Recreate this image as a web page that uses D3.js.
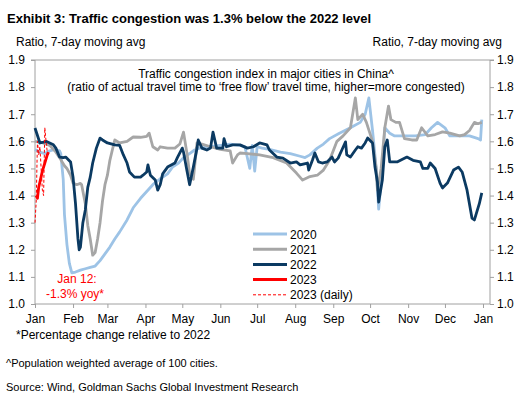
<!DOCTYPE html>
<html>
<head>
<meta charset="utf-8">
<script src="https://cdn.jsdelivr.net/npm/d3@7"></script>
<style>
  body { margin: 0; background: #fff; }
  text { font-family: "Liberation Sans", Arial, sans-serif; fill: #000; }
</style>
</head>
<body>
<div id="chart"></div>
<script>
// month tick labels, placed at day-of-year of each month start
const months = ["Jan", "Feb", "Mar", "Apr", "May", "Jun", "Jul", "Aug", "Sep", "Oct", "Nov", "Dec", "Jan"];
const monthDays = [0, 31, 59, 90, 120, 151, 181, 212, 243, 273, 304, 334, 365];
const yTicks = [1.0, 1.1, 1.2, 1.3, 1.4, 1.5, 1.6, 1.7, 1.8, 1.9];

// 2020 (day of year, ratio)
const days2020 = [0, 4, 8, 12, 16, 20, 21, 23, 24, 26, 28, 30, 33, 37, 41, 45, 49, 53, 57, 61, 65, 69, 75, 80, 86, 91, 96, 102, 108, 112, 117, 121, 126, 130, 134, 143, 151, 159, 167, 171, 175, 177, 179, 181, 185, 191, 200, 208, 216, 220, 224, 230, 235, 240, 248, 257, 265, 269, 272, 275, 278, 280, 283, 285, 289, 293, 301, 310, 318, 323, 328, 334, 338, 346, 354, 361, 363, 364];
const values2020 = [1.57, 1.56, 1.555, 1.565, 1.57, 1.565, 1.555, 1.46, 1.33, 1.22, 1.15, 1.115, 1.118, 1.125, 1.13, 1.135, 1.14, 1.16, 1.185, 1.21, 1.24, 1.266, 1.31, 1.355, 1.39, 1.415, 1.44, 1.462, 1.48, 1.505, 1.52, 1.54, 1.555, 1.568, 1.575, 1.58, 1.585, 1.59, 1.585, 1.58, 1.50, 1.585, 1.49, 1.58, 1.575, 1.57, 1.56, 1.555, 1.545, 1.54, 1.55, 1.575, 1.59, 1.61, 1.63, 1.65, 1.67, 1.70, 1.76, 1.64, 1.50, 1.35, 1.50, 1.65, 1.63, 1.62, 1.62, 1.62, 1.625, 1.65, 1.67, 1.65, 1.62, 1.62, 1.62, 1.61, 1.605, 1.68];

// 2021
const days2021 = [0, 6, 12, 17, 20, 24, 26, 29, 31, 34, 37, 38, 41, 43, 45, 47, 49, 51, 53, 55, 57, 59, 61, 63, 65, 69, 75, 80, 86, 91, 93, 96, 100, 102, 108, 114, 118, 121, 124, 126, 129, 132, 136, 143, 151, 159, 161, 165, 167, 173, 183, 194, 205, 213, 218, 224, 230, 235, 240, 246, 251, 257, 261, 263, 267, 270, 275, 278, 279, 282, 285, 288, 290, 294, 297, 301, 307, 311, 315, 320, 326, 332, 338, 346, 350, 354, 358, 361, 364];
const values2021 = [1.60, 1.595, 1.585, 1.56, 1.54, 1.51, 1.50, 1.475, 1.446, 1.44, 1.445, 1.44, 1.37, 1.29, 1.24, 1.18, 1.19, 1.24, 1.30, 1.38, 1.44, 1.475, 1.53, 1.568, 1.605, 1.594, 1.60, 1.616, 1.615, 1.618, 1.63, 1.58, 1.568, 1.58, 1.575, 1.575, 1.59, 1.634, 1.55, 1.48, 1.46, 1.594, 1.59, 1.58, 1.57, 1.565, 1.52, 1.55, 1.557, 1.555, 1.55, 1.54, 1.52, 1.483, 1.457, 1.47, 1.475, 1.494, 1.53, 1.60, 1.62, 1.65, 1.76, 1.68, 1.70, 1.67, 1.60, 1.50, 1.42, 1.50, 1.65, 1.73, 1.68, 1.67, 1.67, 1.61, 1.605, 1.605, 1.65, 1.62, 1.625, 1.635, 1.63, 1.62, 1.625, 1.64, 1.67, 1.665, 1.67];

// 2022
const days2022 = [0, 4, 7, 9, 12, 15, 17, 20, 23, 25, 29, 31, 33, 35, 36, 37, 39, 41, 43, 45, 47, 50, 53, 55, 59, 65, 69, 72, 75, 77, 81, 86, 88, 91, 92, 94, 98, 100, 102, 104, 108, 114, 116, 120, 121, 124, 126, 129, 132, 133, 136, 140, 143, 145, 148, 153, 154, 156, 161, 167, 173, 178, 183, 189, 191, 197, 202, 208, 213, 216, 222, 223, 226, 228, 231, 234, 238, 242, 244, 247, 250, 253, 254, 257, 261, 263, 266, 269, 271, 275, 277, 279, 280, 283, 285, 287, 289, 295, 303, 308, 314, 316, 320, 322, 326, 330, 332, 336, 341, 345, 348, 352, 356, 358, 362, 364];
const values2022 = [1.649, 1.594, 1.597, 1.60, 1.594, 1.587, 1.575, 1.542, 1.54, 1.542, 1.524, 1.468, 1.37, 1.24, 1.20, 1.21, 1.30, 1.347, 1.43, 1.468, 1.52, 1.575, 1.612, 1.605, 1.594, 1.587, 1.585, 1.55, 1.52, 1.487, 1.468, 1.468, 1.475, 1.487, 1.513, 1.475, 1.457, 1.42, 1.44, 1.48, 1.505, 1.52, 1.54, 1.575, 1.56, 1.487, 1.44, 1.505, 1.575, 1.605, 1.575, 1.568, 1.575, 1.634, 1.575, 1.575, 1.61, 1.58, 1.587, 1.587, 1.575, 1.58, 1.594, 1.587, 1.568, 1.542, 1.538, 1.52, 1.524, 1.513, 1.52, 1.494, 1.53, 1.557, 1.524, 1.52, 1.524, 1.542, 1.524, 1.538, 1.568, 1.598, 1.55, 1.542, 1.568, 1.58, 1.575, 1.594, 1.612, 1.594, 1.505, 1.45, 1.376, 1.457, 1.58, 1.605, 1.524, 1.524, 1.542, 1.53, 1.524, 1.50, 1.50, 1.52, 1.50, 1.446, 1.428, 1.446, 1.494, 1.505, 1.487, 1.42, 1.317, 1.31, 1.37, 1.41];

// 2023, 7-day moving average and daily
const days2023 = [1, 2, 3, 4, 5, 6, 8, 10, 11];
const values2023 = [1.40, 1.39, 1.43, 1.45, 1.47, 1.49, 1.52, 1.55, 1.56];
const daysDaily = [0, 1, 2, 3, 4, 5, 6, 7, 8, 9, 10, 11];
const valuesDaily = [1.30, 1.38, 1.60, 1.55, 1.58, 1.50, 1.42, 1.40, 1.65, 1.60, 1.56, 1.55];

const series = [
  { name: "2020", days: days2020, values: values2020, color: "#9dc3e6", width: 2.8 },
  { name: "2021", days: days2021, values: values2021, color: "#a6a6a6", width: 2.8 },
  { name: "2022", days: days2022, values: values2022, color: "#0b3a62", width: 2.8 },
  { name: "2023", days: days2023, values: values2023, color: "#ff0000", width: 2.8 },
  { name: "2023 (daily)", days: daysDaily, values: valuesDaily, color: "#ff0000", width: 1, dash: "3,2" }
];

const width = 523, height = 397;
const axisColor = "#a0a0a0";

const svg = d3.select("#chart").append("svg")
  .attr("width", width)
  .attr("height", height);

svg.append("rect").attr("width", width).attr("height", height).attr("fill", "#fff");

const x = d3.scaleLinear().domain([0, 365]).range([35, 483]);
const y = d3.scaleLinear().domain([1.0, 1.9]).range([304, 60]);

// titles
svg.append("text").attr("x", 7).attr("y", 23)
  .style("font-size", "13px").style("font-weight", "bold")
  .text("Exhibit 3: Traffic congestion was 1.3% below the 2022 level");
svg.append("text").attr("x", 16).attr("y", 46).style("font-size", "12px")
  .text("Ratio, 7-day moving avg");
svg.append("text").attr("x", 502).attr("y", 46).attr("text-anchor", "end").style("font-size", "12px")
  .text("Ratio, 7-day moving avg");

// axes
const gLeft = svg.append("g").attr("transform", "translate(35,0)")
  .call(d3.axisLeft(y).tickValues(yTicks).tickFormat(d3.format(".1f")).tickSize(4).tickPadding(6));
const gRight = svg.append("g").attr("transform", "translate(490,0)")
  .call(d3.axisRight(y).tickValues(yTicks).tickFormat(d3.format(".1f")).tickSize(4).tickPadding(3));
const gBottom = svg.append("g").attr("transform", "translate(0,304)")
  .call(d3.axisBottom(x).tickValues(monthDays).tickFormat((d, i) => months[i]).tickSize(4).tickPadding(6));

[gLeft, gRight, gBottom].forEach(g => {
  g.select(".domain").remove();
  g.selectAll(".tick line").attr("stroke", axisColor);
  g.selectAll(".tick text").style("font-size", "12px").style("font-family", "'Liberation Sans', Arial, sans-serif").attr("fill", "#000");
});

svg.append("line").attr("x1", 35).attr("x2", 35).attr("y1", 60).attr("y2", 304).attr("stroke", axisColor);
svg.append("line").attr("x1", 490).attr("x2", 490).attr("y1", 60).attr("y2", 304).attr("stroke", axisColor);
svg.append("line").attr("x1", 35).attr("x2", 490).attr("y1", 304).attr("y2", 304).attr("stroke", axisColor);
svg.append("line").attr("x1", 31).attr("x2", 494).attr("y1", 60).attr("y2", 60).attr("stroke", axisColor);

// chart heading inside plot
svg.append("text").attr("x", 266).attr("y", 77.5).attr("text-anchor", "middle").style("font-size", "12px")
  .text("Traffic congestion index in major cities in China^");
svg.append("text").attr("x", 266).attr("y", 91).attr("text-anchor", "middle").style("font-size", "12px")
  .text("(ratio of actual travel time to \u2018free flow\u2019 travel time, higher=more congested)");

// lines
const line = d3.line()
  .x(d => x(d[0]))
  .y(d => y(d[1]))
  .curve(d3.curveLinear);

series.forEach(s => {
  const pts = s.days.map((d, i) => [d, s.values[i]]);
  svg.append("path")
    .datum(pts)
    .attr("d", line)
    .attr("fill", "none")
    .attr("stroke", s.color)
    .attr("stroke-width", s.width)
    .attr("stroke-linejoin", "round")
    .attr("stroke-dasharray", s.dash || null);
});

// legend
const legend = svg.append("g").attr("transform", "translate(253,234)");
series.forEach((s, i) => {
  const row = legend.append("g").attr("transform", `translate(0,${i * 15.2})`);
  row.append("line").attr("x1", 0).attr("x2", 34).attr("y1", 0).attr("y2", 0)
    .attr("stroke", s.color).attr("stroke-width", s.dash ? 1 : 3)
    .attr("stroke-dasharray", s.dash || null);
  row.append("text").attr("x", 37).attr("y", 4.5).style("font-size", "12px").text(s.name);
});

// annotation
svg.append("text").attr("x", 77).attr("y", 283).attr("text-anchor", "middle")
  .style("font-size", "12px").style("fill", "#ff0000").text("Jan 12:");
svg.append("text").attr("x", 75).attr("y", 298).attr("text-anchor", "middle")
  .style("font-size", "12px").style("fill", "#ff0000").text("-1.3% yoy*");

// footnotes
svg.append("text").attr("x", 16).attr("y", 339).style("font-size", "12px")
  .text("*Percentage change relative to 2022");
svg.append("text").attr("x", 6).attr("y", 367).style("font-size", "11px")
  .text("^Population weighted average of 100 cities.");
svg.append("text").attr("x", 6).attr("y", 391).style("font-size", "11px")
  .text("Source: Wind, Goldman Sachs Global Investment Research");
</script>
</body>
</html>
